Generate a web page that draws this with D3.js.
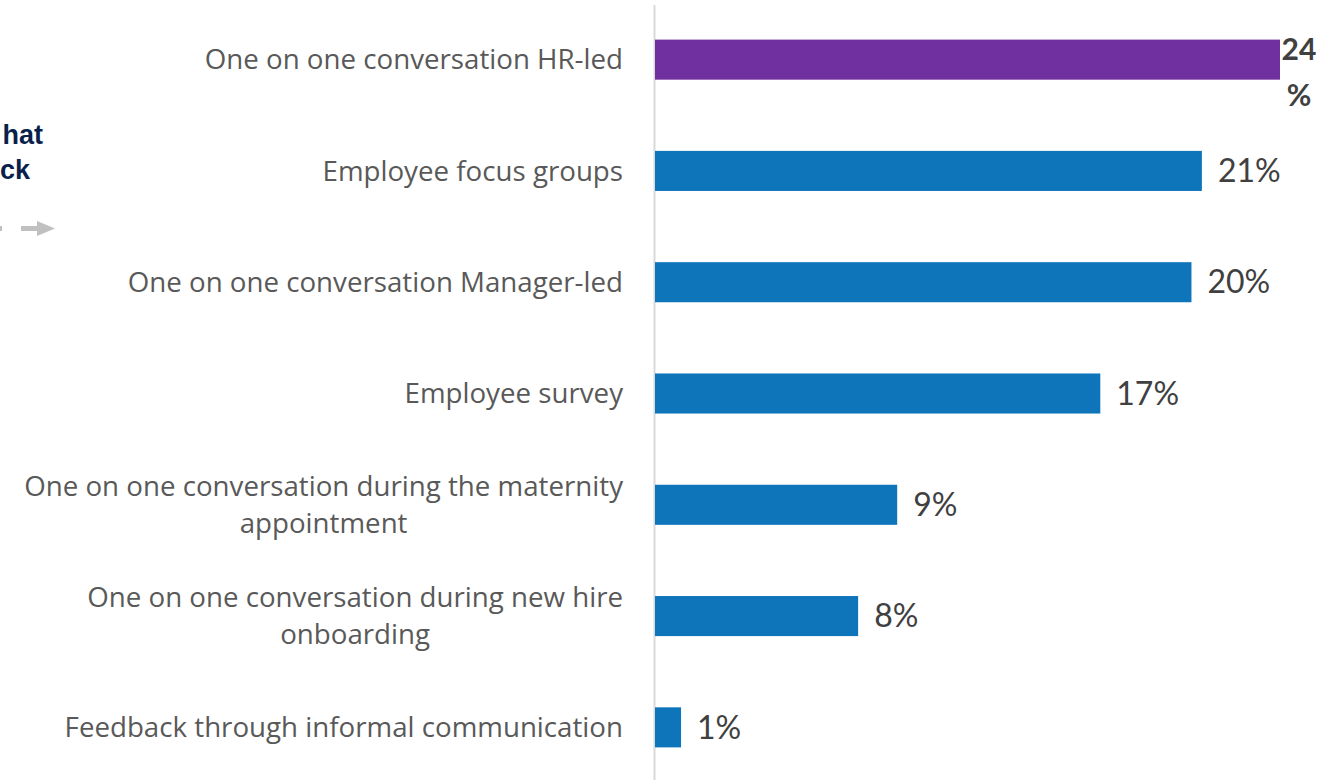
<!DOCTYPE html>
<html><head><meta charset="utf-8">
<script src="https://cdn.jsdelivr.net/npm/d3@7"></script>
<style>body{margin:0;background:#fff;overflow:hidden}</style>
</head><body>
<svg id="c" width="1337" height="780"></svg>
<script>
const categories = [
  ["One on one conversation HR-led"],
  ["Employee focus groups"],
  ["One on one conversation Manager-led"],
  ["Employee survey"],
  ["One on one conversation during the maternity", "appointment"],
  ["One on one conversation during new hire", "onboarding"],
  ["Feedback through informal communication"]
];
const values = [24.0, 21.0, 20.6, 17.1, 9.3, 7.8, 1.0];
const valueLabels = [["24", "%"], ["21%"], ["20%"], ["17%"], ["9%"], ["8%"], ["1%"]];
const highlight = [true, false, false, false, false, false, false];
const titleFragments = ["hat", "ck"];

const svg = d3.select("#c");
const x = d3.scaleLinear().domain([0, 24]).range([655, 1280]);
const y = d3.scaleBand().domain(d3.range(categories.length)).range([4, 783]).paddingInner(0.64).paddingOuter(0.32);

svg.append("line").attr("x1", 654.5).attr("x2", 654.5).attr("y1", 5).attr("y2", 780)
  .attr("stroke", "#d9d9d9").attr("stroke-width", 2);

svg.selectAll("rect.bar").data(values).join("rect")
  .attr("x", x(0)).attr("y", (d, i) => y(i))
  .attr("width", d => x(d) - x(0)).attr("height", y.bandwidth())
  .attr("fill", (d, i) => highlight[i] ? "#7030a0" : "#0e75bb");

categories.forEach((lines, i) => {
  const cy = y(i) + y.bandwidth() / 2;
  const lh = 37;
  const t = svg.append("text").attr("text-anchor", "end")
    .attr("font-family", "Open Sans, sans-serif").attr("font-size", 27.7).attr("fill", "#595959");
  lines.forEach((l, k) => {
    const dy = (k - (lines.length - 1) / 2) * lh;
    t.append("tspan").attr("x", 623)
      .attr("y", cy + dy).attr("dy", "0.35em").text(l);
  });
  if (lines.length > 1) {
    const first = t.select("tspan").node();
    const w = first.getComputedTextLength();
    t.selectAll("tspan").filter((d, k) => k === 1)
      .attr("x", 623 - w / 2).attr("text-anchor", "middle");
  }
});

values.forEach((v, i) => {
  const cy = y(i) + y.bandwidth() / 2;
  const lab = valueLabels[i];
  if (lab.length > 1) {
    const t = svg.append("text").attr("font-family", "Lato, sans-serif").attr("font-size", 30)
      .attr("font-weight", "bold").attr("fill", "#404040").attr("text-anchor", "middle");
    t.append("tspan").attr("x", 1299).attr("y", cy - 10).attr("dy", "0.35em").text(lab[0]);
    t.append("tspan").attr("x", 1299).attr("y", cy + 36).attr("dy", "0.35em").text(lab[1]);
  } else {
    svg.append("text").attr("x", x(v) + 16).attr("y", cy).attr("dy", "0.35em")
      .attr("font-family", "Lato, sans-serif").attr("font-size", 32).attr("fill", "#404040")
      .text(lab[0]);
  }
});

svg.append("text").attr("x", 43).attr("y", 144).attr("text-anchor", "end")
  .attr("font-family", "Liberation Sans, Arial, sans-serif").attr("font-weight", "bold")
  .attr("font-size", 27).attr("fill", "#0b1f4b").text(titleFragments[0]);
svg.append("text").attr("x", 30).attr("y", 179).attr("text-anchor", "end")
  .attr("font-family", "Liberation Sans, Arial, sans-serif").attr("font-weight", "bold")
  .attr("font-size", 27).attr("fill", "#0b1f4b").text(titleFragments[1]);

svg.append("rect").attr("x", -4).attr("y", 226).attr("width", 6).attr("height", 5).attr("fill", "#c0c0c0");
svg.append("rect").attr("x", 21).attr("y", 226).attr("width", 17).attr("height", 5).attr("fill", "#c0c0c0");
svg.append("path").attr("d", "M37,221 L55,228.5 L37,236 Z").attr("fill", "#c0c0c0");
</script>
</body></html>
